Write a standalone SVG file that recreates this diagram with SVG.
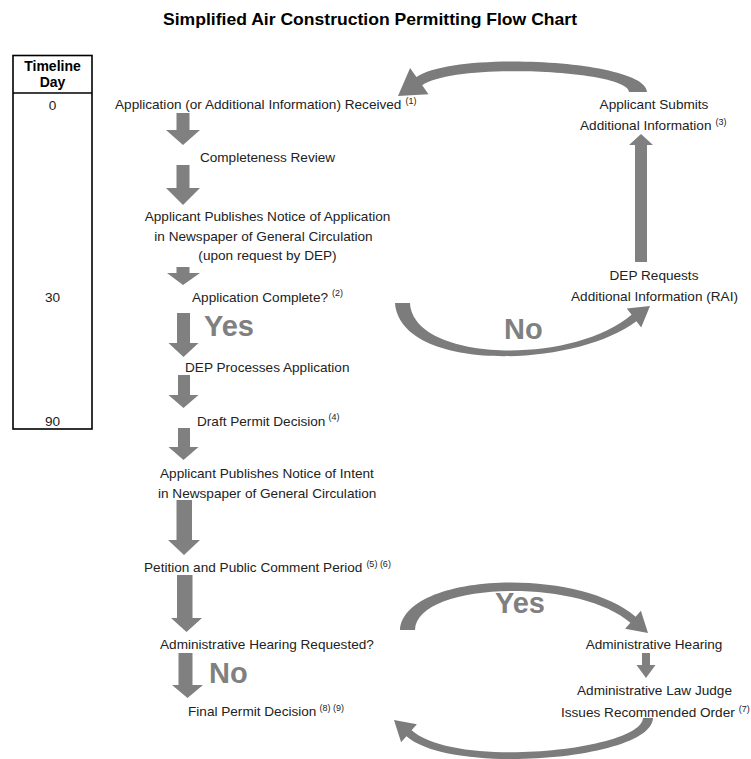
<svg xmlns="http://www.w3.org/2000/svg" width="751" height="759" viewBox="0 0 751 759">
<style>
.t{font-family:"Liberation Sans",Arial,sans-serif;font-size:13.6px;fill:#222}
.c{text-anchor:middle}
.sup{font-size:9px}
.big{font-family:"Liberation Sans",Arial,sans-serif;font-size:29px;font-weight:bold;fill:#808080}
.arr{fill:#808080}
.curve{fill:#7c7c7c}
</style>
<rect width="751" height="759" fill="#fff"/>
<text x="370" y="25" font-family="Liberation Sans,Arial,sans-serif" font-size="17" font-weight="bold" text-anchor="middle" textLength="414" lengthAdjust="spacingAndGlyphs" fill="#000">Simplified Air Construction Permitting Flow Chart</text>

<g id="timeline">
<rect x="13" y="55.5" width="79" height="373.5" fill="none" stroke="#000" stroke-width="1.6"/>
<line x1="13" y1="93" x2="92" y2="93" stroke="#000" stroke-width="1.6"/>
<text x="52.5" y="71" font-family="Liberation Sans,Arial,sans-serif" font-size="14" font-weight="bold" text-anchor="middle" fill="#000">Timeline</text>
<text x="52.5" y="87" font-family="Liberation Sans,Arial,sans-serif" font-size="14" font-weight="bold" text-anchor="middle" fill="#000">Day</text>
<text class="t c" x="52.5" y="110">0</text>
<text class="t c" x="52.5" y="301.5">30</text>
<text class="t c" x="52.5" y="426">90</text>
</g>

<g id="connectors">
<polygon class="arr" points="176.5,113 189.5,113 189.5,130 200,130 183,145 166,130 176.5,130"/>
<polygon class="arr" points="176.5,165 189.5,165 189.5,188 200,188 183,205 166,188 176.5,188"/>
<polygon class="arr" points="176.5,267 189.5,267 189.5,273 200,273 183,285 167,273 176.5,273"/>
<polygon class="arr" points="177,313 190,313 190,343 198.5,343 183.5,357 168.5,343 177,343"/>
<polygon class="arr" points="178,375 190,375 190,395 198.5,395 183.5,408 168.5,395 178,395"/>
<polygon class="arr" points="178,428 190,428 190,447 198.5,447 183.5,460 168.5,447 178,447"/>
<polygon class="arr" points="176.5,500 192,500 192,540 200,540 184,555 168,540 176.5,540"/>
<polygon class="arr" points="177,575 192.5,575 192.5,618 202,618 186.5,632 171,618 177,618"/>
<polygon class="arr" points="178.5,653 192.5,653 192.5,685 203,685 187.5,698 172,685 178.5,685"/>
<polygon class="arr" points="635,262 647,262 647,145 653,145 641,134 629,145 635,145"/>
<polygon class="arr" points="642,653 650,653 650,665 655.5,665 646,678 636.5,665 642,665"/>
<path class="curve" d="M629,92 C629,70 455,62 422.2,85.2 L428.5,94.2 L398,96 L410.1,68 L416.4,77 C455,50 647,60 647,92 Z"/>
<path class="curve" d="M395,303 C400,372 572.4,369.2 636.4,321.2 L641.2,327.6 L650,306 L626.8,308.4 L631.6,314.8 C572,366 413,362 410,303 Z"/>
<path class="curve" d="M400,630 C404,572 578.6,566.6 635.6,616.8 L640.9,610.8 L648,633 L625.1,628.8 L630.4,622.8 C577.9,576.6 416,582 415,630 Z"/>
<path class="curve" d="M653,718 C652,760 451.4,775.8 406.4,736.2 L401.1,742.2 L394,720 L416.9,724.2 L411.6,730.2 C456.6,769.8 642,750 643,718 Z"/>
<text class="big" x="204" y="336">Yes</text>
<text class="big" x="209" y="683">No</text>
<text class="big" x="504" y="339">No</text>
<text class="big" x="495" y="613">Yes</text>
</g>

<g id="n-received"><text class="t" x="115" y="109">Application (or Additional Information) Received<tspan class="sup" dx="4" dy="-5">(1)</tspan></text></g>
<g id="n-completeness"><text class="t c" x="267.5" y="162">Completeness Review</text></g>
<g id="n-notice-app">
<text class="t c" x="267.5" y="220.7">Applicant Publishes Notice of Application</text>
<text class="t c" x="263.5" y="241">in Newspaper of General Circulation</text>
<text class="t c" x="267.5" y="260">(upon request by DEP)</text>
</g>
<g id="n-complete"><text class="t" x="192" y="301.7">Application Complete?<tspan class="sup" dx="4" dy="-6">(2)</tspan></text></g>
<g id="n-process"><text class="t" x="185" y="371.7">DEP Processes Application</text></g>
<g id="n-draft"><text class="t" x="197" y="426">Draft Permit Decision<tspan class="sup" dx="3" dy="-6">(4)</tspan></text></g>
<g id="n-notice-intent">
<text class="t" x="160" y="478">Applicant Publishes Notice of Intent</text>
<text class="t" x="158" y="497.5">in Newspaper of General Circulation</text>
</g>
<g id="n-petition"><text class="t" x="144" y="572">Petition and Public Comment Period<tspan class="sup" dx="4" dy="-5">(5) (6)</tspan></text></g>
<g id="n-hearing-req"><text class="t" x="160" y="649">Administrative Hearing Requested?</text></g>
<g id="n-final"><text class="t" x="188" y="716">Final Permit Decision<tspan class="sup" dx="3" dy="-5">(8) (9)</tspan></text></g>
<g id="n-submits">
<text class="t c" x="654" y="109">Applicant Submits</text>
<text class="t" x="580" y="130">Additional Information<tspan class="sup" dx="4" dy="-5">(3)</tspan></text>
</g>
<g id="n-rai">
<text class="t c" x="654" y="280">DEP Requests</text>
<text class="t c" x="654.5" y="300.7">Additional Information (RAI)</text>
</g>
<g id="n-hearing"><text class="t c" x="654" y="649">Administrative Hearing</text></g>
<g id="n-alj">
<text class="t c" x="654.5" y="695">Administrative Law Judge</text>
<text class="t" x="561" y="717">Issues Recommended Order<tspan class="sup" dx="4" dy="-5">(7)</tspan></text>
</g>
</svg>
